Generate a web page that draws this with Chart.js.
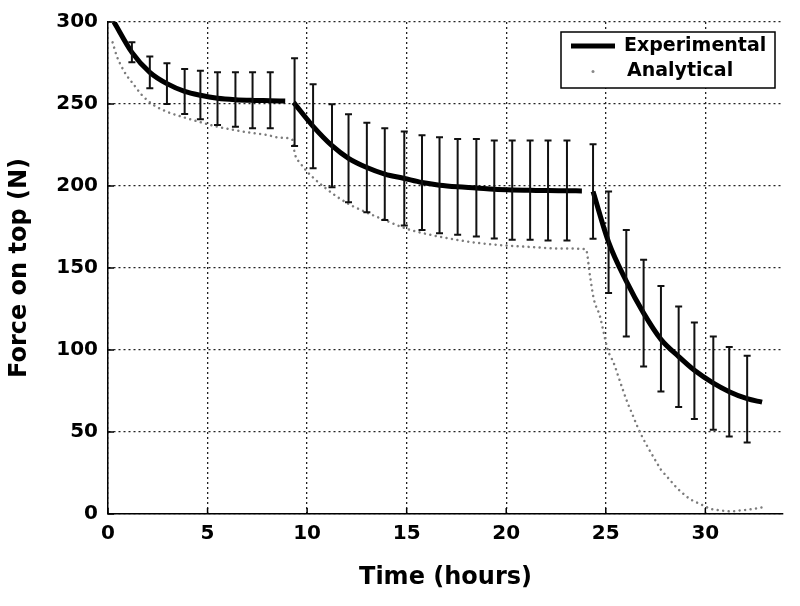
<!DOCTYPE html>
<html>
<head>
<meta charset="utf-8">
<script src="https://cdn.jsdelivr.net/npm/chart.js@4.4.1/dist/chart.umd.min.js"></script>
<style>
  body { margin: 0; background: #fff; }
  canvas { display: block; }
</style>
</head>
<body>
<canvas id="grafico" width="800" height="606"></canvas>
<script>
// experimental curve (null = break between load steps)
const expTime  = [0.3, 1.2, 2.1, 2.96, 3.85, 4.64, 5.5, 6.4, 7.26, 8.15, 8.9, 9.1,
                  9.32, 10.3, 11.25, 12.08, 13.0, 13.9, 14.88, 15.77, 16.65, 17.56, 18.5, 19.4, 20.3, 21.2, 22.1, 23.05, 23.8, 24.1,
                  24.36, 25.14, 26.03, 26.9, 27.77, 28.66, 29.45, 30.4, 31.2, 32.1, 32.85]
const expForce = [300, 281.5, 269.3, 262.4, 257.7, 255.3, 253.5, 252.6, 252.2, 252.0, 251.8, null,
                  251.0, 236.4, 224.6, 216.9, 211.3, 207.3, 204.6, 202.1, 200.5, 199.5, 198.8, 198.0, 197.6, 197.4, 197.2, 197.1, 197.0, null,
                  196.6, 165.8, 142.0, 122.5, 106.5, 96.0, 87.6, 79.8, 74.6, 70.3, 68.2]

// error bars
const barTime   = [1.2, 2.1, 2.96, 3.85, 4.64, 5.5, 6.4, 7.26, 8.15,
                   9.37, 10.3, 11.25, 12.08, 13.0, 13.9, 14.88, 15.77, 16.65, 17.56, 18.5, 19.4, 20.3, 21.2, 22.1, 23.05,
                   24.36, 25.14, 26.03, 26.9, 27.77, 28.66, 29.45, 30.4, 31.2, 32.1]
const barTop    = [287.6, 278.9, 274.8, 271.4, 270.3, 269.3, 269.3, 269.3, 269.3,
                   277.9, 262.0, 249.8, 243.7, 238.6, 235.2, 233.2, 231.0, 229.7, 228.7, 228.7, 227.7, 227.7, 227.7, 227.7, 227.7,
                   225.5, 196.6, 173.2, 155.0, 139.1, 126.5, 116.8, 108.2, 101.8, 96.5]
const barBottom = [275.4, 259.6, 250.0, 243.9, 240.7, 237.2, 236.2, 235.2, 235.2,
                   224.4, 210.8, 199.3, 190.1, 184.0, 179.3, 175.9, 173.2, 171.2, 170.2, 169.2, 168.0, 167.2, 167.2, 166.8, 166.8,
                   167.8, 134.7, 108.2, 90.0, 74.7, 65.2, 57.9, 51.4, 47.3, 43.6]

// analytical curve
const anaTime  = [0.23, 0.45, 0.7, 0.92, 1.2, 1.7, 2.29, 2.96, 3.8, 4.64, 5.47, 6.3, 7.15, 8.0, 8.6, 9.24,
                  9.4, 9.66, 10.0, 10.33, 10.83, 11.5, 12.17, 13.0, 14.0, 15.0, 16.2, 17.5, 18.7, 20.0, 21.4, 22.7, 24.0,
                  24.2, 24.4, 24.7, 25.1, 25.4, 25.65, 25.87, 26.1, 26.35, 26.57, 26.82, 27.07, 27.54, 27.77, 28.04, 28.28,
                  28.5, 28.75, 29.0, 29.2, 29.45, 29.7, 30.0, 30.25, 30.75, 31.26, 31.76, 32.35, 32.85]
const anaForce = [287.6, 278.9, 272.4, 267.7, 263.3, 255.5, 249.4, 245.3, 241.9, 238.9, 236.2, 234.2, 232.5, 231.1, 229.5, 228.5,
                  219.0, 213.9, 208.8, 204.8, 199.6, 193.5, 188.5, 183.8, 178.7, 173.9, 170.2, 167.2, 165.1, 163.7, 162.7, 161.9, 161.5,
                  145.8, 131.0, 120.8, 100.1, 92.0, 83.2, 75.3, 67.6, 60.3, 53.8, 47.3, 41.6, 31.7, 27.0, 23.3, 19.9,
                  16.8, 13.8, 11.3, 9.3, 7.7, 6.3, 4.6, 3.2, 2.2, 1.6, 2.2, 3.0, 4.0]

const xTicks = [0, 5, 10, 15, 20, 25, 30]
const yTicks = [0, 50, 100, 150, 200, 250, 300]
const legendLabels = ['Experimental', 'Analytical']

const fonte = 'DejaVu Sans'

const extras = {
  id: 'extras',
  beforeDatasetsDraw(chart) {
    // small inward tick marks
    const { ctx, chartArea: a, scales: { x, y } } = chart
    ctx.save()
    ctx.strokeStyle = '#000'
    ctx.lineWidth = 1.5
    ctx.beginPath()
    xTicks.forEach(v => {
      const px = x.getPixelForValue(v)
      ctx.moveTo(px, a.bottom)
      ctx.lineTo(px, a.bottom - 6)
    })
    yTicks.forEach(v => {
      const py = y.getPixelForValue(v)
      ctx.moveTo(a.left, py)
      ctx.lineTo(a.left + 6, py)
    })
    ctx.stroke()
    ctx.restore()
  },
  afterDatasetsDraw(chart) {
    const { ctx, chartArea: a, scales: { x, y } } = chart
    ctx.save()
    // error bars
    ctx.strokeStyle = '#111'
    ctx.lineWidth = 2
    ctx.beginPath()
    barTime.forEach((t, i) => {
      const px = x.getPixelForValue(t)
      const pt = y.getPixelForValue(barTop[i])
      const pb = y.getPixelForValue(barBottom[i])
      ctx.moveTo(px, pt); ctx.lineTo(px, pb)
      ctx.moveTo(px - 3.5, pt); ctx.lineTo(px + 3.5, pt)
      ctx.moveTo(px - 3.5, pb); ctx.lineTo(px + 3.5, pb)
    })
    ctx.stroke()

    // legend
    const bx = a.right - 222, by = a.top + 10, bw = 214, bh = 56
    ctx.fillStyle = '#fff'
    ctx.fillRect(bx, by, bw, bh)
    ctx.strokeStyle = '#000'
    ctx.lineWidth = 1.5
    ctx.strokeRect(bx, by, bw, bh)

    ctx.lineWidth = 5
    ctx.beginPath()
    ctx.moveTo(bx + 10, by + 14); ctx.lineTo(bx + 54, by + 14)
    ctx.stroke()
    ctx.fillStyle = '#888'
    ctx.beginPath()
    ctx.arc(bx + 32, by + 39.5, 1.5, 0, Math.PI * 2)
    ctx.fill()

    ctx.fillStyle = '#000'
    ctx.font = 'bold 19px ' + fonte
    ctx.textBaseline = 'middle'
    ctx.fillText(legendLabels[0], bx + 63, by + 14)
    ctx.fillText(legendLabels[1], bx + 66, by + 39.5)
    ctx.restore()
  }
}

const grafico = new Chart(document.getElementById('grafico'), {
  type: 'line',
  data: {
    datasets: [
      {
        label: legendLabels[0],
        data: expTime.map((t, i) => ({ x: t, y: expForce[i] })),
        borderColor: '#000',
        borderWidth: 5,
        pointRadius: 0,
        cubicInterpolationMode: 'monotone',
        spanGaps: false
      },
      {
        label: legendLabels[1],
        data: anaTime.map((t, i) => ({ x: t, y: anaForce[i] })),
        borderColor: '#7c7c7c',
        borderWidth: 2.5,
        borderDash: [0.01, 5.5],
        borderCapStyle: 'round',
        pointRadius: 0,
        cubicInterpolationMode: 'monotone'
      }
    ]
  },
  options: {
    responsive: false,
    animation: false,
    layout: { padding: { left: 0, right: 17, top: 22, bottom: 0 } },
    plugins: { legend: { display: false }, tooltip: { enabled: false } },
    scales: {
      x: {
        type: 'linear',
        min: 0,
        max: 33.9,
        afterBuildTicks: s => { s.ticks = xTicks.map(v => ({ value: v })) },
        afterFit: s => { s.height = 92 },
        ticks: { color: '#000', font: { family: fonte, size: 20, weight: 'bold' }, padding: 8, maxRotation: 0 },
        grid: { color: '#222', lineWidth: 1.3, drawTicks: false },
        border: { display: true, color: '#000', width: 1.5, dash: [2, 3] },
        title: { display: true, text: 'Time (hours)', color: '#000', font: { family: fonte, size: 24, weight: 'bold' }, padding: { top: 0, bottom: 14 } }
      },
      y: {
        min: 0,
        max: 300,
        afterBuildTicks: s => { s.ticks = yTicks.map(v => ({ value: v })) },
        afterFit: s => { s.width = 108 },
        ticks: { color: '#000', font: { family: fonte, size: 20, weight: 'bold' }, padding: 10 },
        grid: { color: '#222', lineWidth: 1.3, drawTicks: false },
        border: { display: true, color: '#000', width: 1.5, dash: [2, 3] },
        title: { display: true, text: 'Force on top (N)', color: '#000', font: { family: fonte, size: 24, weight: 'bold' }, padding: { top: 5, bottom: 0 } }
      }
    }
  },
  plugins: [extras]
})
</script>
</body>
</html>
